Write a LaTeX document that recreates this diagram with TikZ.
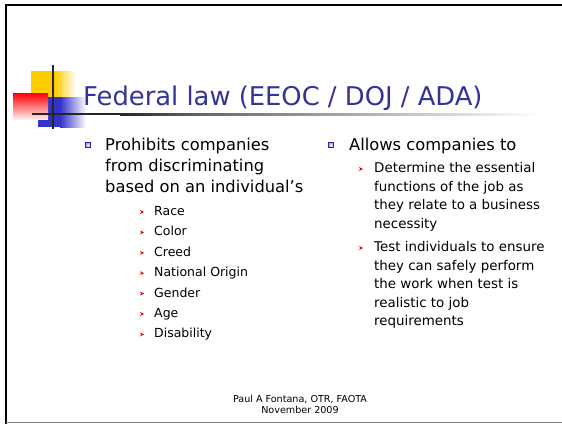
\documentclass[tikz,border=0pt]{standalone}
\usepackage{fontspec}
\setmainfont{DejaVu Sans}
\usepackage{xcolor}
\usetikzlibrary{positioning}
\definecolor{titleblue}{RGB}{51,51,153}
\definecolor{logoyellow}{RGB}{255,204,0}
\definecolor{logoblue}{RGB}{51,51,204}
\definecolor{logored}{RGB}{255,0,0}
\definecolor{bulletblue}{RGB}{40,40,160}
\tikzset{
  titletext/.style={anchor=base west, inner sep=0pt, text=titleblue,
    font=\fontsize{25.8}{30}\selectfont},
  maintext/.style={anchor=base west, inner sep=0pt, align=left,
    font=\fontsize{16.3}{21}\selectfont},
  subtext/.style={anchor=base west, inner sep=0pt, align=left,
    font=\fontsize{12.5}{18.5}\selectfont},
  rsubtext/.style={subtext, font=\fontsize{13.4}{18.5}\selectfont},
  foottext/.style={anchor=base, inner sep=0pt, align=center,
    font=\fontsize{9.6}{10}\selectfont},
  sqbullet/.pic={
    \draw[bulletblue, line width=0.6pt, inner color=white, outer color=bulletblue!45]
      (-2.5,-2.5) rectangle (2.5,2.5);},
  arrbullet/.pic={
    \fill[logored] (-2,-2) -- (2.2,0) -- (-2,2) -- (-0.8,0) -- cycle;}
}
\begin{document}
\begin{tikzpicture}[x=1pt,y=-1pt]
  \useasboundingbox (0,0) rectangle (562,424);
  % рамка
  \draw[line width=2pt] (5.5,424) -- (5.5,5) -- (562,5);
  \draw[gray, line width=1.5pt] (5.5,422.5) -- (562,422.5);
  % логотип
  \fill[logoyellow] (31,71) rectangle (55,97);
  \shade[left color=logoyellow, right color=white] (55,71) rectangle (76,97);
  \fill[logoblue] (38,97) rectangle (60,127);
  \shade[left color=logoblue, right color=white] (60,97) rectangle (86,127);
  \shade[shading angle=-45, top color=logored, bottom color=white!92!red]
    (13,93) rectangle (48,119);
  \fill[black!85] (32,113) rectangle (120,115.2);
  \shade[left color=black!85, right color=black!60] (120,113) rectangle (200,115.2);
  \shade[left color=black!60, right color=white] (200,113) rectangle (540,115.2);
  \draw[black!85, line width=2pt] (53,65) -- (53,129);
  % заголовок
  \node[titletext] (title) at (83,105) {Federal law (EEOC / DOJ / ADA)};
  % левая колонка (base = последняя строка)
  \node[maintext] (prohibits) at (105,192)
    {Prohibits companies\\from discriminating\\based on an individual’s};
  \pic at (88,145) {sqbullet};
  \foreach \item [count=\i] in {Race,Color,Creed,National Origin,Gender,Age,Disability} {
    \node[subtext] (left\i) at (154,{211+4.5+(\i-1)*20.4}) {\item};
    \pic at (142,{212+(\i-1)*20.4}) {arrbullet};
  }
  % правая колонка
  \node[maintext] (allows) at (349,150) {Allows companies to};
  \pic at (331,145) {sqbullet};
  \node[rsubtext] (determine) at (374,228)
    {Determine the essential\\functions of the job as\\they relate to a business\\necessity};
  \pic at (361,169) {arrbullet};
  \node[rsubtext] (testind) at (374,325.5)
    {Test individuals to ensure\\they can safely perform\\the work when test is\\realistic to job\\requirements};
  \pic at (361,248) {arrbullet};
  % подпись
  \node[foottext] (author) at (300,402.5) {Paul A Fontana, OTR, FAOTA};
  \node[foottext] (date) at (300,413) {November 2009};
\end{tikzpicture}
\end{document}
